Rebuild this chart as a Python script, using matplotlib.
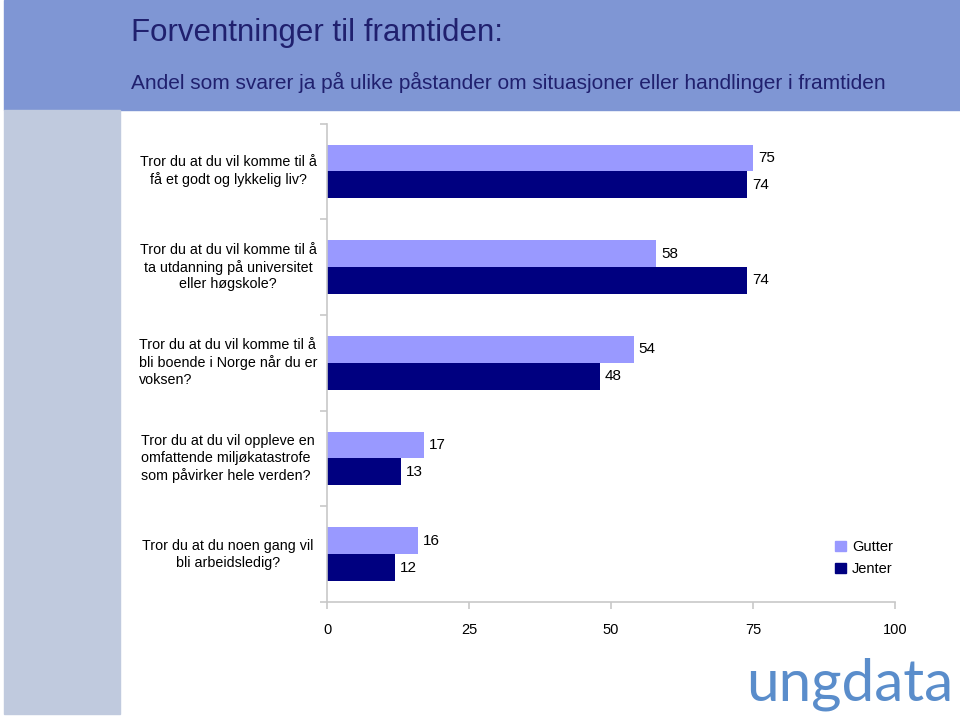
import matplotlib
matplotlib.use("Agg")
import matplotlib.pyplot as plt
from matplotlib.patches import Rectangle, Patch
from matplotlib import transforms

categories = [
    "Tror du at du vil komme til å\nfå et godt og lykkelig liv?",
    "Tror du at du vil komme til å\nta utdanning på universitet\neller høgskole?",
    "Tror du at du vil komme til å\nbli boende i Norge når du er\nvoksen?",
    "Tror du at du vil oppleve en\nomfattende miljøkatastrofe\nsom påvirker hele verden?",
    "Tror du at du noen gang vil\nbli arbeidsledig?",
]
gutter = [75, 58, 54, 17, 16]
jenter = [74, 74, 48, 13, 12]
series_names = ["Gutter", "Jenter"]
x_ticks = [0, 25, 50, 75, 100]
title = "Forventninger til framtiden:"
subtitle = "Andel som svarer ja på ulike påstander om situasjoner eller handlinger i framtiden"
logo = "ungdata"

c_gutter = "#9999FF"
c_jenter = "#000080"
sans = ["Liberation Sans", "DejaVu Sans"]

fig = plt.figure(figsize=(9.6, 7.16), dpi=100)
W, H = 960, 716

# background bands
fig.patches.append(Rectangle((4 / W, 1 - 110 / H), 1 - 4 / W, 110 / H,
                             transform=fig.transFigure, color="#7F96D4", zorder=0))
fig.patches.append(Rectangle((4 / W, 2 / H), 116 / W, 1 - 112 / H,
                             transform=fig.transFigure, color="#C0CADE", zorder=0))

fig.text(131 / W, 1 - 33 / H, title, family=sans, fontsize=22.5,
         color="#20206E", va="center", ha="left")
fig.text(131 / W, 1 - 82 / H, subtitle, family=sans, fontsize=15,
         color="#20206E", va="center", ha="left")

ax = fig.add_axes([327 / W, 1 - 602 / H, 568 / W, 478.5 / H])
n = len(categories)
bh = 0.28
centers = [i + 0.5 for i in range(n)]
ax.barh([c - bh / 2 for c in centers], gutter, height=bh, color=c_gutter, label=series_names[0])
ax.barh([c + bh / 2 for c in centers], jenter, height=bh, color=c_jenter, label=series_names[1])
ax.set_ylim(n, 0)
ax.set_xlim(0, 100)

for c, g, j in zip(centers, gutter, jenter):
    ax.annotate(str(g), (g, c - bh / 2), xytext=(3.5, 0), textcoords="offset points",
                va="center", ha="left", family=sans, fontsize=11)
    ax.annotate(str(j), (j, c + bh / 2), xytext=(3.5, 0), textcoords="offset points",
                va="center", ha="left", family=sans, fontsize=11)

aligns = ["center", "center", "left", "left", "center"]
tr = transforms.blended_transform_factory(fig.transFigure, ax.transData)
for c, lab, al in zip(centers, categories, aligns):
    fig.text(228 / W, c, lab, transform=tr, ha="center", va="center",
             multialignment=al, family=sans, fontsize=10.3, linespacing=1.25)

for s in ["top", "right"]:
    ax.spines[s].set_visible(False)
for s in ["left", "bottom"]:
    ax.spines[s].set_color("#C8C8C8")
    ax.spines[s].set_linewidth(1.2)
ax.set_yticks(range(n + 1))
ax.set_yticklabels([])
ax.set_xticks(x_ticks)
ax.set_xticklabels([str(t) for t in x_ticks], family=sans, fontsize=10.5)
ax.tick_params(axis="both", color="#C8C8C8", length=5, width=1.2)
ax.tick_params(axis="x", pad=10)

handles = [Patch(color=c_gutter), Patch(color=c_jenter)]
fig.legend(handles, series_names, loc="center left",
           bbox_to_anchor=(822 / W, 1 - 558 / H), frameon=False,
           handlelength=0.75, handleheight=0.75, handletextpad=0.4,
           labelspacing=0.55, prop={"family": sans, "size": 10.5})

fig.text(850 / W, 1 - 684 / H, logo, family=["Lato", "DejaVu Sans"], fontweight="normal",
         fontsize=42, color="#5A8DCB", ha="center", va="center")

fig.savefig("out.png", dpi=100)
